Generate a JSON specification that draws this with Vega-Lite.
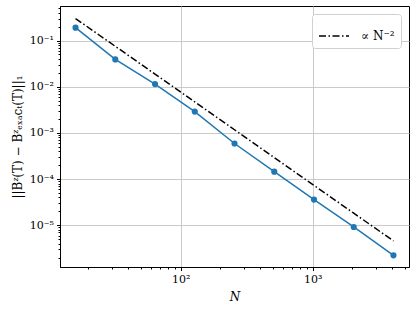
{
  "$schema": "https://vega.github.io/schema/vega-lite/v6.json",
  "width": 349,
  "height": 261,
  "autosize": {"type": "none"},
  "padding": {"left": 60, "top": 6, "right": 7, "bottom": 44},
  "config": {
    "view": {"stroke": "black", "strokeWidth": 1},
    "font": "DejaVu Serif",
    "axis": {
      "domainColor": "black",
      "tickColor": "black",
      "labelColor": "black",
      "titleColor": "black",
      "labelFont": "DejaVu Serif",
      "titleFont": "DejaVu Serif",
      "labelFontSize": 11,
      "titleFontSize": 12,
      "titleFontWeight": "normal",
      "gridColor": "#c4c4c4",
      "gridWidth": 0.9
    }
  },
  "datasets": {
    "err": [
      {"N": 16, "err": 0.19},
      {"N": 32, "err": 0.039},
      {"N": 64, "err": 0.0114},
      {"N": 128, "err": 0.0029},
      {"N": 256, "err": 0.00059},
      {"N": 512, "err": 0.000145},
      {"N": 1024, "err": 0.000036},
      {"N": 2048, "err": 0.0000092},
      {"N": 4096, "err": 0.00000224}
    ],
    "ref": [
      {"N": 16, "ref": 0.3, "label": "∝ N⁻²"},
      {"N": 32, "ref": 0.075, "label": "∝ N⁻²"},
      {"N": 64, "ref": 0.01875, "label": "∝ N⁻²"},
      {"N": 128, "ref": 0.0046875, "label": "∝ N⁻²"},
      {"N": 256, "ref": 0.001171875, "label": "∝ N⁻²"},
      {"N": 512, "ref": 0.00029296875, "label": "∝ N⁻²"},
      {"N": 1024, "ref": 0.0000732421875, "label": "∝ N⁻²"},
      {"N": 2048, "ref": 0.000018310546875, "label": "∝ N⁻²"},
      {"N": 4096, "ref": 0.00000457763671875, "label": "∝ N⁻²"}
    ]
  },
  "layer": [
    {
      "data": {"name": "ref"},
      "mark": {"type": "line", "color": "black", "strokeWidth": 1.5, "clip": true},
      "encoding": {
        "x": {
          "field": "N", "type": "quantitative",
          "scale": {"type": "log", "domain": [12.2, 5370], "nice": false},
          "axis": {
            "title": "N",
            "titleFontStyle": "italic",
            "titlePadding": 7,
            "values": [20,30,40,50,60,70,80,90,100,200,300,400,500,600,700,800,900,1000,2000,3000,4000,5000],
            "labelExpr": "datum.value == 100 ? '10²' : datum.value == 1000 ? '10³' : ''",
            "labelPadding": 3,
            "tickSize": {"condition": {"test": "datum.value == 100 || datum.value == 1000", "value": 3.5}, "value": 2},
            "gridOpacity": {"condition": {"test": "datum.value == 100 || datum.value == 1000", "value": 1}, "value": 0},
            "grid": true
          }
        },
        "y": {
          "field": "ref", "type": "quantitative",
          "scale": {"type": "log", "domain": [0.00000125, 0.56], "nice": false},
          "axis": {
            "title": "||Bᶻ(T) − Bᶻₑₓₐcₜ(T)||₁",
            "titlePadding": 5,
            "values": [0.000002,0.000003,0.000004,0.000005,0.000006,0.000007,0.000008,0.000009,0.00001,0.00002,0.00003,0.00004,0.00005,0.00006,0.00007,0.00008,0.00009,0.0001,0.0002,0.0003,0.0004,0.0005,0.0006,0.0007,0.0008,0.0009,0.001,0.002,0.003,0.004,0.005,0.006,0.007,0.008,0.009,0.01,0.02,0.03,0.04,0.05,0.06,0.07,0.08,0.09,0.1,0.2,0.3,0.4,0.5],
            "labelExpr": "datum.value == 0.1 ? '10⁻¹' : datum.value == 0.01 ? '10⁻²' : datum.value == 0.001 ? '10⁻³' : datum.value == 0.0001 ? '10⁻⁴' : datum.value == 0.00001 ? '10⁻⁵' : ''",
            "labelPadding": 3,
            "tickSize": {"condition": {"test": "datum.value == 0.1 || datum.value == 0.01 || datum.value == 0.001 || datum.value == 0.0001 || datum.value == 0.00001", "value": 3.5}, "value": 2},
            "gridOpacity": {"condition": {"test": "datum.value == 0.1 || datum.value == 0.01 || datum.value == 0.001 || datum.value == 0.0001 || datum.value == 0.00001", "value": 1}, "value": 0},
            "grid": true
          }
        },
        "strokeDash": {
          "field": "label", "type": "nominal",
          "scale": {"domain": ["∝ N⁻²"], "range": [[7, 2.5, 1.5, 2.5]]},
          "legend": {
            "title": null,
            "orient": "top-right",
            "offset": 8,
            "padding": 6,
            "strokeColor": "#d0d0d0",
            "fillColor": "white",
            "cornerRadius": 3,
            "symbolType": "stroke",
            "symbolSize": 900,
            "symbolStrokeWidth": 1.5,
            "symbolStrokeColor": "black",
            "labelFont": "DejaVu Serif",
            "labelFontSize": 12,
            "labelColor": "black",
            "labelOffset": 11
          }
        }
      }
    },
    {
      "data": {"name": "err"},
      "mark": {"type": "line", "color": "#1f77b4", "strokeWidth": 1.5, "point": {"filled": true, "size": 38, "color": "#1f77b4", "opacity": 1}},
      "encoding": {
        "x": {"field": "N", "type": "quantitative"},
        "y": {"field": "err", "type": "quantitative"}
      }
    }
  ]
}
